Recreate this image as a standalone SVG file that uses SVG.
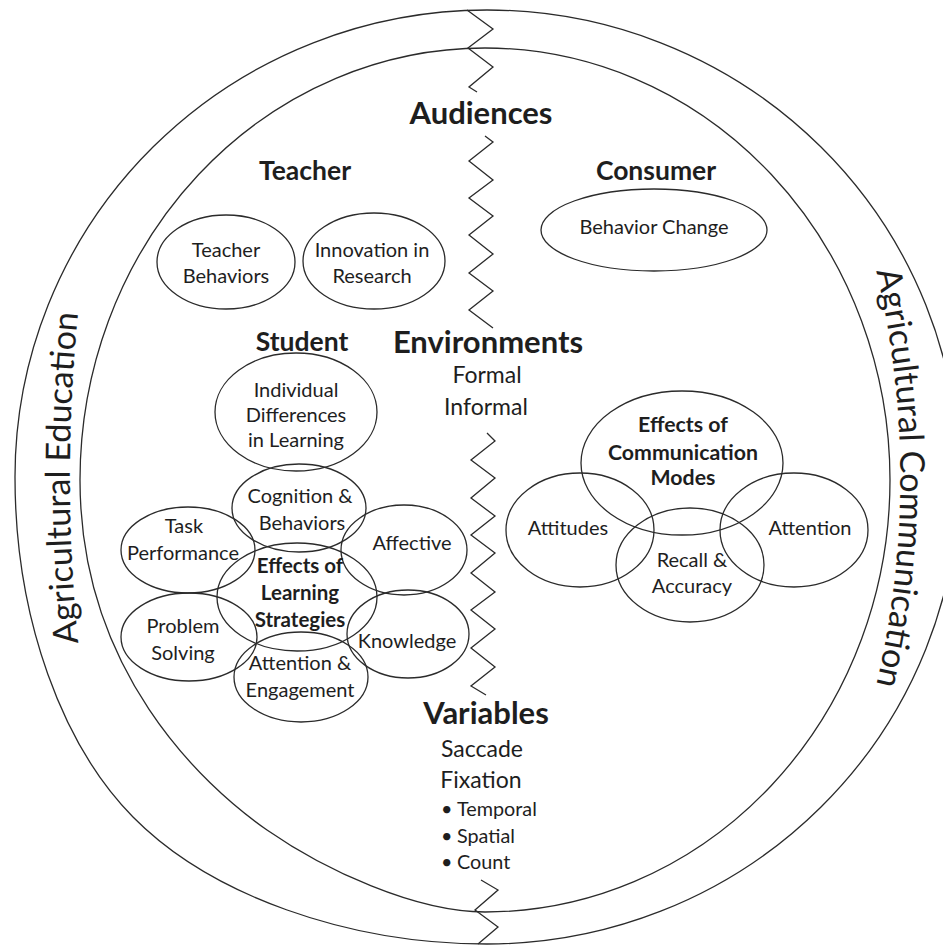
<svg xmlns="http://www.w3.org/2000/svg" width="943" height="945" viewBox="0 0 943 945">
<style>
.ln{fill:none;stroke:#2b2b2b;stroke-width:1.3}
text{font-family:Lato,"Open Sans",sans-serif;fill:#1e1e1e}
.h1{font-size:31px;font-weight:bold;text-anchor:middle}
.h2{font-size:26.5px;font-weight:bold;text-anchor:middle}
.sub{font-size:23px;text-anchor:middle}
.el{font-size:20px;text-anchor:middle}
.elb{font-size:20.5px;font-weight:bold;text-anchor:middle}
.elc{font-size:21.3px;font-weight:bold;text-anchor:middle}
.side{font-size:34px;text-anchor:middle}
.bul{font-size:19.8px}
</style>
<defs>
  <!-- baselines for the curved band titles -->
  <path id="edu-base" d="M80,660 A1644,1644 0 0 1 80,296"/>
  <path id="com-base" d="M873,258 A900,900 0 0 1 873,698"/>
</defs>
<rect width="943" height="945" fill="#fff"/>

<!-- outer domain bands -->
<g id="agricultural-education">
  <path class="ln" d="M487,10 A472,467 0 0 0 15,477 C15,620 63,746 133,817 C210,895 347,944 487,944"/>
  <path class="ln" d="M485,48 A405,432 0 0 0 80,480 C80,670 201.4,784.4 267,830 C324.4,869.9 415,912 485,912"/>
  <text class="side"><textPath href="#edu-base" startOffset="50%">Agricultural Education</textPath></text>
</g>
<g id="agricultural-communication">
  <path class="ln" d="M487,10 A472,467 0 0 1 487,944"/>
  <path class="ln" d="M485,48 A405,432 0 0 1 485,912"/>
  <text class="side"><textPath href="#com-base" startOffset="50%">Agricultural Communication</textPath></text>
</g>

<!-- zigzag dividers -->
<g id="connectors">
  <polyline class="ln" points="467,10 493,29 468,48 493,67 469,87 477,92"/>
  <polyline class="ln" points="485,136 493,142 469,161 493,180 469,198 493,216 469,235 493,254 469,273 493,291 469,310 493,328"/>
  <polyline class="ln" points="487,433 495,441 471,460 495,478 471,498 495,516 471,535 495,553 471,573 495,592 471,610 495,629 471,648 495,667 471,686 486,695"/>
  <polyline class="ln" points="481,880 498,890 475,910 498,927 478,944"/>
</g>

<!-- section headings -->
<g id="audiences"><text class="h1" x="481" y="124">Audiences</text></g>
<g id="environments">
  <text class="h1" x="488" y="353">Environments</text>
  <text class="sub" x="487" y="383">Formal</text>
  <text class="sub" x="486" y="415">Informal</text>
</g>
<g id="variables">
  <text class="h1" x="486" y="724">Variables</text>
  <text class="sub" x="482" y="757">Saccade</text>
  <text class="sub" x="481" y="788">Fixation</text>
  <text class="bul" x="441" y="816">•</text><text class="bul" x="457" y="816">Temporal</text>
  <text class="bul" x="441" y="843">•</text><text class="bul" x="457" y="843">Spatial</text>
  <text class="bul" x="441" y="869">•</text><text class="bul" x="457" y="869">Count</text>
</g>

<!-- audience labels -->
<g id="teacher"><text class="h2" x="305" y="180">Teacher</text></g>
<g id="consumer"><text class="h2" x="656" y="180">Consumer</text></g>
<g id="student"><text class="h2" x="302" y="351">Student</text></g>

<!-- teacher topics -->
<g id="teacher-behaviors">
  <ellipse class="ln" cx="226" cy="262" rx="69" ry="47"/>
  <text class="el" x="226" y="257">Teacher</text>
  <text class="el" x="226" y="283">Behaviors</text>
</g>
<g id="innovation-in-research">
  <ellipse class="ln" cx="374" cy="261" rx="71" ry="48"/>
  <text class="el" x="372" y="257">Innovation in</text>
  <text class="el" x="372" y="283">Research</text>
</g>

<!-- consumer topic -->
<g id="behavior-change">
  <ellipse class="ln" cx="654" cy="230" rx="113" ry="41"/>
  <text class="el" x="654" y="234">Behavior Change</text>
</g>

<!-- student topics -->
<g id="individual-differences">
  <ellipse class="ln" cx="296" cy="412" rx="81" ry="59"/>
  <text class="el" x="296" y="397">Individual</text>
  <text class="el" x="296" y="422">Differences</text>
  <text class="el" x="296" y="447">in Learning</text>
</g>
<g id="cognition-behaviors">
  <ellipse class="ln" cx="299" cy="508" rx="67" ry="44"/>
  <text class="el" x="300" y="503">Cognition &amp;</text>
  <text class="el" x="302" y="530">Behaviors</text>
</g>
<g id="task-performance">
  <ellipse class="ln" cx="188" cy="550" rx="67" ry="43"/>
  <text class="el" x="184" y="533">Task</text>
  <text class="el" x="183" y="560">Performance</text>
</g>
<g id="affective">
  <ellipse class="ln" cx="404" cy="550" rx="63" ry="45"/>
  <text class="el" x="412" y="550">Affective</text>
</g>
<g id="learning-strategies">
  <ellipse class="ln" cx="297" cy="597" rx="80" ry="54"/>
  <text class="elb" x="300" y="573">Effects of</text>
  <text class="elb" x="300" y="600">Learning</text>
  <text class="elb" x="300" y="627">Strategies</text>
</g>
<g id="problem-solving">
  <ellipse class="ln" cx="189" cy="637" rx="68" ry="44"/>
  <text class="el" x="183" y="633">Problem</text>
  <text class="el" x="183" y="660">Solving</text>
</g>
<g id="knowledge">
  <ellipse class="ln" cx="408" cy="634" rx="61" ry="44"/>
  <text class="el" x="407" y="648">Knowledge</text>
</g>
<g id="attention-engagement">
  <ellipse class="ln" cx="301" cy="677" rx="67" ry="45"/>
  <text class="el" x="300" y="670">Attention &amp;</text>
  <text class="el" x="300" y="697">Engagement</text>
</g>

<!-- communication topics -->
<g id="communication-modes">
  <ellipse class="ln" cx="682" cy="463" rx="101" ry="72"/>
  <text class="elc" x="683" y="432">Effects of</text>
  <text class="elc" x="683" y="460">Communication</text>
  <text class="elc" x="683" y="485">Modes</text>
</g>
<g id="attitudes">
  <ellipse class="ln" cx="580" cy="530" rx="74" ry="57"/>
  <text class="el" x="568" y="535">Attitudes</text>
</g>
<g id="recall-accuracy">
  <ellipse class="ln" cx="690" cy="565" rx="74" ry="57"/>
  <text class="el" x="692" y="567">Recall &amp;</text>
  <text class="el" x="692" y="593">Accuracy</text>
</g>
<g id="attention">
  <ellipse class="ln" cx="794" cy="530" rx="74" ry="57"/>
  <text class="el" x="810" y="535">Attention</text>
</g>
</svg>
